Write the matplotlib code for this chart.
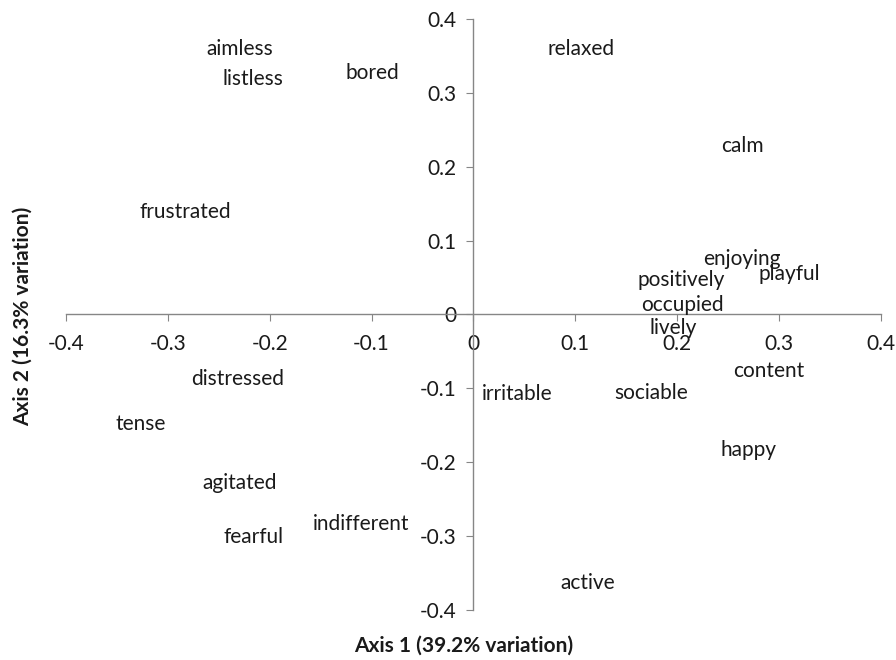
import matplotlib
matplotlib.use('Agg')
import matplotlib.pyplot as plt

# ordination scores (label centres)
words = ['aimless', 'listless', 'bored', 'relaxed', 'calm', 'frustrated',
         'enjoying', 'positively', 'playful', 'occupied', 'lively',
         'distressed', 'irritable', 'sociable', 'content', 'tense',
         'happy', 'agitated', 'fearful', 'indifferent', 'active']
axis1 = [-0.229, -0.216, -0.099, 0.106, 0.264, -0.283,
         0.264, 0.204, 0.310, 0.205, 0.196,
         -0.232, 0.043, 0.175, 0.290, -0.327,
         0.270, -0.230, -0.216, -0.110, 0.112]
axis2 = [0.362, 0.322, 0.330, 0.362, 0.231, 0.142,
         0.078, 0.050, 0.058, 0.015, -0.016,
         -0.085, -0.105, -0.103, -0.074, -0.146,
         -0.181, -0.226, -0.299, -0.281, -0.361]
ticks = [-0.4, -0.3, -0.2, -0.1, 0, 0.1, 0.2, 0.3, 0.4]
tick_labels = ['-0.4', '-0.3', '-0.2', '-0.1', '0', '0.1', '0.2', '0.3', '0.4']

plt.rcParams['font.family'] = ['Lato', 'DejaVu Sans']

fig = plt.figure(figsize=(8.96, 6.60), dpi=100)
ax = fig.add_axes([0.0737, 0.0758, 0.9093, 0.8955])
ax.set_xlim(-0.4, 0.4)
ax.set_ylim(-0.4, 0.4)

for w, x, y in zip(words, axis1, axis2):
    ax.annotate(w, (x, y), xytext=(0, -2), textcoords='offset pixels',
                ha='center', va='center', fontsize=15, color='#1a1a1a')

grey = '#868686'
ax.spines['left'].set_position(('data', 0))
ax.spines['bottom'].set_position(('data', 0))
ax.spines['right'].set_visible(False)
ax.spines['top'].set_visible(False)
for s in ('left', 'bottom'):
    ax.spines[s].set_color(grey)
    ax.spines[s].set_linewidth(1.0)

ax.set_xticks(ticks)
ax.set_xticklabels(tick_labels)
ax.set_yticks(ticks)
ax.set_yticklabels(tick_labels)
ax.tick_params(axis='both', direction='out', length=5, color=grey,
               labelsize=15, labelcolor='#1a1a1a')
ax.tick_params(axis='x', pad=9)
ax.tick_params(axis='y', pad=7)

fig.text(0.518, 0.022, 'Axis 1 (39.2% variation)', ha='center', va='center',
         fontsize=15, fontweight='bold', color='#1a1a1a')
fig.text(0.025, 0.52, 'Axis 2 (16.3% variation)', ha='center', va='center',
         rotation=90, fontsize=15, fontweight='bold', color='#1a1a1a')

fig.savefig('out.png', dpi=100)
